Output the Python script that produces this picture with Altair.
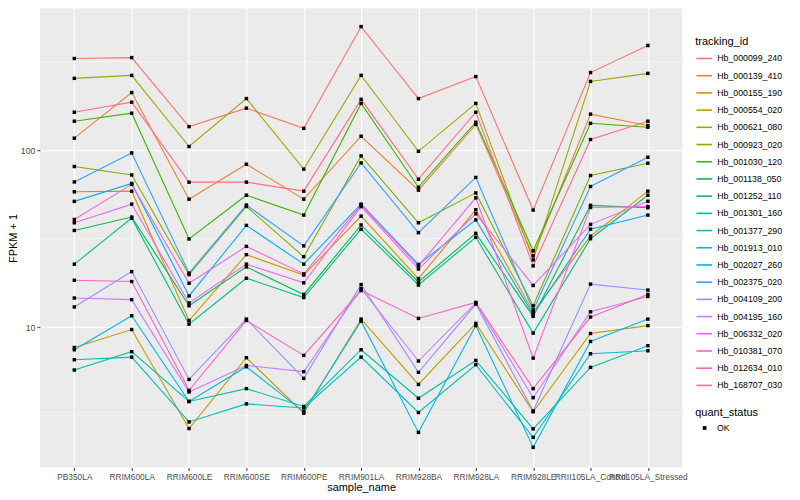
import altair as alt
import pandas as pd

samples = ["PB350LA", "RRIM600LA", "RRIM600LE", "RRIM600SE", "RRIM600PE", "RRIM901LA",
           "RRIM928BA", "RRIM928LA", "RRIM928LE", "RRII105LA_Control", "RRII105LA_Stressed"]

tracking_ids = ["Hb_000099_240", "Hb_000139_410", "Hb_000155_190", "Hb_000554_020",
                "Hb_000621_080", "Hb_000923_020", "Hb_001030_120", "Hb_001138_050",
                "Hb_001252_110", "Hb_001301_160", "Hb_001377_290", "Hb_001913_010",
                "Hb_002027_260", "Hb_002375_020", "Hb_004109_200", "Hb_004195_160",
                "Hb_006332_020", "Hb_010381_070", "Hb_012634_010", "Hb_168707_030"]

palette = ["#F8766D", "#EA8331", "#D89000", "#C09B00", "#A3A500", "#7CAE00", "#39B600",
           "#00BB4E", "#00BF7D", "#00C1A3", "#00BFC4", "#00BAE0", "#00B0F6", "#35A2FF",
           "#9590FF", "#C77CFF", "#E76BF3", "#FA62DB", "#FF62BC", "#FF6C91"]

# FPKM + 1 per sample (same order as `samples`)
hb_000099_240 = [330, 334, 136, 173, 133, 500, 196, 261, 45.9, 275, 391]
hb_000139_410 = [117, 212, 52.9, 83.4, 52.9, 120, 59.5, 140, 25.3, 160, 138]
hb_000155_190 = [58.2, 58.7, 10.9, 25.7, 19.7, 42.4, 18.8, 46.1, 12.2, 32.7, 58.7]
hb_000554_020 = [7.67, 9.69, 2.67, 6.71, 3.26, 11.1, 4.74, 10.5, 3.32, 9.20, 10.2]
hb_000621_080 = [255, 265, 105, 196, 78.2, 265, 98.6, 184, 24.0, 245, 272]
hb_000923_020 = [80.9, 72.5, 19.8, 48.1, 25.0, 92.9, 38.9, 57.4, 13.2, 72.0, 84.5]
hb_001030_120 = [146, 162, 31.5, 55.7, 43.0, 184, 61.8, 144, 27.0, 142, 135]
hb_001138_050 = [35.2, 41.9, 13.2, 21.9, 15.3, 37.8, 18.0, 33.9, 11.5, 48.8, 47.3]
hb_001252_110 = [22.7, 41.3, 10.4, 18.9, 14.7, 35.8, 17.3, 32.2, 9.25, 31.6, 55.7]
hb_001301_160 = [5.72, 7.26, 3.80, 4.49, 3.56, 7.45, 3.96, 6.48, 2.66, 5.92, 7.85]
hb_001377_290 = [6.54, 6.77, 2.91, 3.68, 3.49, 6.77, 3.29, 6.13, 2.38, 7.07, 7.35]
hb_001913_010 = [7.45, 11.6, 3.80, 5.97, 3.32, 10.8, 2.54, 10.2, 2.09, 8.30, 11.1]
hb_002027_260 = [51.4, 64.9, 15.0, 37.6, 22.7, 49.6, 22.6, 40.4, 11.8, 35.8, 43.0]
hb_002375_020 = [66.2, 96.6, 20.2, 49.0, 28.8, 84.8, 34.2, 70.2, 12.5, 62.4, 91.3]
hb_004109_200 = [13.0, 20.6, 5.06, 11.1, 5.13, 17.4, 5.55, 13.5, 3.36, 17.5, 16.2]
hb_004195_160 = [14.6, 14.3, 4.30, 6.07, 5.60, 16.5, 6.43, 13.7, 3.99, 12.2, 14.9]
hb_006332_020 = [38.9, 49.6, 13.7, 22.7, 17.8, 48.0, 21.3, 43.7, 17.2, 38.1, 51.5]
hb_010381_070 = [40.6, 64.1, 17.7, 28.6, 20.0, 49.0, 22.2, 53.8, 6.68, 47.5, 48.1]
hb_012634_010 = [18.4, 18.1, 4.39, 10.9, 6.92, 16.1, 11.2, 13.8, 4.49, 11.4, 15.3]
hb_168707_030 = [164, 187, 66.0, 66.0, 58.7, 194, 68.6, 164, 22.2, 115, 146]

series = [hb_000099_240, hb_000139_410, hb_000155_190, hb_000554_020, hb_000621_080,
          hb_000923_020, hb_001030_120, hb_001138_050, hb_001252_110, hb_001301_160,
          hb_001377_290, hb_001913_010, hb_002027_260, hb_002375_020, hb_004109_200,
          hb_004195_160, hb_006332_020, hb_010381_070, hb_012634_010, hb_168707_030]

y_major = [10, 100]
y_minor = [3.1623, 31.623, 316.23]

rows = []
for tid, vals in zip(tracking_ids, series):
    for s, v in zip(samples, vals):
        rows.append({"tracking_id": tid, "sample_name": s, "fpkm": v, "quant_status": "OK"})
df = pd.DataFrame(rows)
minor_df = pd.DataFrame({"fpkm": y_minor})

x_enc = alt.X("sample_name:N", sort=samples,
              scale=alt.Scale(type="point", padding=0.6),
              axis=alt.Axis(title="sample_name", labelAngle=0, labelOverlap=False,
                            labelPadding=2, titlePadding=1, grid=True,
                            labelFontSize=8.4))
y_enc = alt.Y("fpkm:Q",
              scale=alt.Scale(type="log", domain=[1.609, 632], nice=False),
              axis=alt.Axis(title="FPKM + 1", values=y_major, format="d",
                            labelPadding=2, titlePadding=2, grid=True))

minor = alt.Chart(minor_df).mark_rule(color="white", strokeWidth=0.55).encode(y=y_enc)

lines = alt.Chart(df).mark_line(strokeWidth=1.1).encode(
    x=x_enc, y=y_enc,
    color=alt.Color("tracking_id:N",
                    scale=alt.Scale(domain=tracking_ids, range=palette),
                    legend=alt.Legend(title="tracking_id", orient="none",
                                      legendX=657, legendY=27,
                                      symbolType="stroke", symbolSize=246,
                                      symbolStrokeWidth=1.6, rowPadding=3.25,
                                      labelOffset=4, titlePadding=3)),
)

points = alt.Chart(df).mark_point(filled=True, color="black", opacity=1, size=12).encode(
    x=x_enc, y=y_enc,
    shape=alt.Shape("quant_status:N", scale=alt.Scale(domain=["OK"], range=["square"]),
                    legend=alt.Legend(title="quant_status", orient="none",
                                      legendX=657, legendY=399,
                                      symbolFillColor="black", symbolStrokeColor="black",
                                      symbolSize=14, symbolOffset=5, labelOffset=8,
                                      titlePadding=6)),
)

chart = alt.layer(minor, lines, points).properties(
    width=644, height=460,
    padding={"left": 32, "top": 0, "right": 110, "bottom": 28},
    autosize="none",
).configure_view(
    fill="#EBEBEB", stroke=None
).configure_axis(
    domain=False, tickColor="#333333", tickSize=3, tickWidth=1,
    labelColor="#4D4D4D", labelFont="Liberation Sans", labelFontSize=8.8,
    titleFont="Liberation Sans", titleFontSize=11, titleFontWeight="normal",
    titleColor="#000000", gridColor="#FFFFFF", gridWidth=1.1,
).configure_legend(
    titleFont="Liberation Sans", titleFontSize=11, titleFontWeight="normal",
    titleColor="#000000", labelFont="Liberation Sans", labelFontSize=8.8,
    labelColor="#000000",
)

chart.save("out.html", embed_options={"renderer": "svg", "actions": False})
